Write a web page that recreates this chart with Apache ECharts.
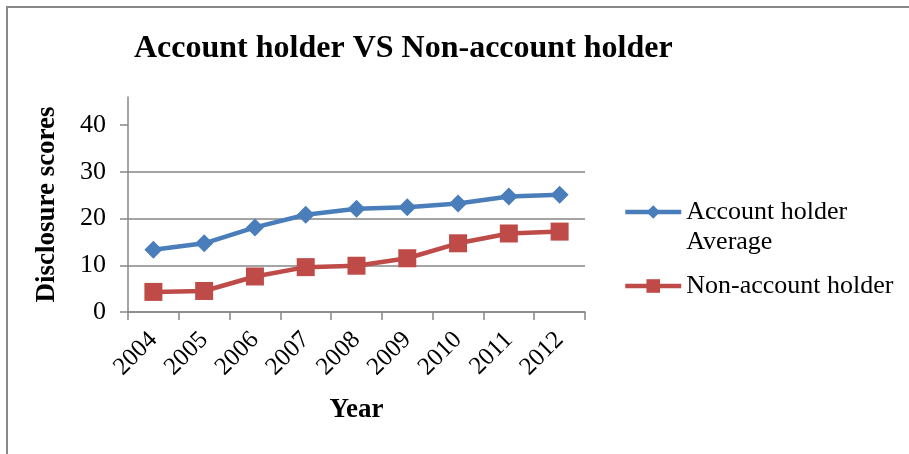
<!DOCTYPE html>
<html>
<head>
<meta charset="utf-8">
<script src="https://cdn.jsdelivr.net/npm/echarts@6/dist/echarts.min.js"></script>
<style>
  html, body { margin: 0; padding: 0; background: #fff; }
  #frame {
    position: absolute; left: 6px; top: 6px; width: 903px; height: 448px;
    border-left: 2px solid #888; border-top: 2px solid #888; box-sizing: border-box;
  }
  #main { position: absolute; left: 0; top: 0; width: 909px; height: 454px; }
</style>
</head>
<body>
<div id="frame"></div>
<div id="main"></div>
<script>
// chart data
const years = ["2004", "2005", "2006", "2007", "2008", "2009", "2010", "2011", "2012"];
const accountHolder = [13.3, 14.7, 18.1, 20.8, 22.1, 22.4, 23.2, 24.7, 25.1];
const nonAccountHolder = [4.3, 4.5, 7.6, 9.6, 9.9, 11.5, 14.7, 16.8, 17.2];
const yTicks = [0, 10, 20, 30, 40];

const blue = "#4a7ebb";
const red = "#be4b48";
const grey = "#868686";
const serif = "Liberation Serif, Times New Roman, serif";

var myChart = echarts.init(document.getElementById("main"));
myChart.setOption({
  animation: false,
  title: {
    text: "Account holder VS Non-account holder",
    left: 129,
    top: 28,
    textStyle: { fontFamily: serif, fontSize: 32, fontWeight: "bold", color: "#000" }
  },
  legend: [
    {
      orient: "vertical",
      left: 623,
      top: 167,
      padding: 0,
      itemWidth: 56,
      itemHeight: 17,
      data: ["Account holder\nAverage"],
      // blank first line so the icon sits beside the first text line
      formatter: function (name) { return " \n" + name; },
      lineStyle: { width: 4.5 },
      textStyle: { fontFamily: serif, fontSize: 26, color: "#000", lineHeight: 30 }
    },
    {
      orient: "vertical",
      left: 623,
      top: 271,
      padding: 0,
      itemWidth: 56,
      itemHeight: 17,
      data: ["Non-account holder"],
      lineStyle: { width: 4.5 },
      textStyle: { fontFamily: serif, fontSize: 26, color: "#000", lineHeight: 30 }
    }
  ],
  grid: { left: 128, top: 97, right: 324, bottom: 142 },
  xAxis: {
    type: "category",
    data: years,
    boundaryGap: true,
    name: "Year",
    nameLocation: "middle",
    nameGap: 85,
    nameTextStyle: { fontFamily: serif, fontSize: 27, fontWeight: "bold", color: "#000" },
    axisLine: { lineStyle: { color: grey, width: 1.5 } },
    axisTick: { show: true, length: 8, lineStyle: { color: grey, width: 1.5 } },
    axisLabel: { rotate: 45, interval: 0, margin: 24, fontFamily: serif, fontSize: 25, color: "#000" }
  },
  yAxis: {
    type: "value",
    min: 0,
    max: 46,
    interval: 10,
    name: "Disclosure scores",
    nameLocation: "middle",
    nameGap: 67,
    nameTextStyle: { fontFamily: serif, fontSize: 27, fontWeight: "bold", color: "#000" },
    axisLine: { show: true, lineStyle: { color: grey, width: 1.5 } },
    axisTick: { show: true, length: 8, customValues: yTicks, lineStyle: { color: grey, width: 1.5 } },
    axisLabel: { margin: 22, customValues: yTicks, fontFamily: serif, fontSize: 26, color: "#000" },
    splitLine: { show: true, showMaxLine: false, lineStyle: { color: grey, width: 1.5 } }
  },
  series: [
    {
      name: "Account holder\nAverage",
      type: "line",
      data: accountHolder,
      color: blue,
      symbol: "diamond",
      symbolSize: 18,
      lineStyle: { width: 4.5, color: blue },
      itemStyle: { color: blue }
    },
    {
      name: "Non-account holder",
      type: "line",
      data: nonAccountHolder,
      color: red,
      symbol: "rect",
      symbolSize: 18,
      lineStyle: { width: 4.5, color: red },
      itemStyle: { color: red }
    }
  ]
});
</script>
</body>
</html>
